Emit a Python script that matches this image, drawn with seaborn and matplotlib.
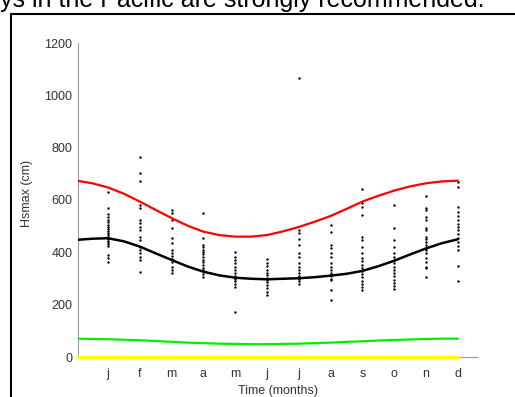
import matplotlib
matplotlib.use("Agg")
import pandas as pd
import matplotlib.pyplot as plt
from matplotlib.patches import Rectangle
import seaborn as sns

# Month tick labels
months = ['j', 'f', 'm', 'a', 'm', 'j', 'j', 'a', 's', 'o', 'n', 'd']

# Observed yearly maxima (cm), one list per month
obs_jan = [632, 571, 545, 535, 525, 515, 505, 498, 490, 480, 472, 465, 458, 450, 445, 440, 432, 425, 390, 378, 362]
obs_feb = [763, 702, 672, 581, 568, 523, 511, 498, 485, 460, 447, 422, 409, 396, 384, 371, 326]
obs_mar = [562, 551, 523, 492, 453, 434, 409, 398, 387, 375, 364, 345, 332, 320]
obs_apr = [551, 453, 428, 420, 410, 400, 392, 382, 372, 362, 351, 340, 332, 318, 307]
obs_may = [402, 383, 370, 358, 345, 332, 320, 310, 300, 290, 280, 269, 173]
obs_jun = [373, 358, 346, 334, 322, 312, 303, 295, 285, 275, 262, 250, 237]
obs_jul = [1065, 485, 473, 450, 428, 399, 383, 358, 345, 332, 320, 310, 300, 290, 280]
obs_aug = [504, 479, 428, 415, 396, 383, 358, 345, 332, 320, 310, 300, 294, 256, 218]
obs_sep = [641, 587, 574, 543, 460, 447, 422, 396, 377, 365, 352, 340, 328, 316, 304, 292, 280, 268, 256]
obs_oct = [581, 492, 447, 422, 396, 383, 370, 358, 345, 332, 320, 308, 296, 284, 272, 260]
obs_nov = [616, 568, 562, 536, 523, 492, 485, 460, 450, 440, 428, 418, 408, 396, 377, 364, 345, 339, 307]
obs_dec = [670, 651, 574, 555, 540, 525, 510, 495, 485, 470, 455, 440, 425, 409, 348, 292]

# Fitted curves (month position -> cm)
curve_x = [0.06, 0.5, 1, 1.5, 2, 2.5, 3, 3.5, 4, 4.5, 5, 5.5, 6,
           6.5, 7, 7.5, 8, 8.5, 9, 9.5, 10, 10.5, 11, 11.5, 12]
hs_upper = [673, 664, 648, 624, 594, 562, 531, 502, 479, 466, 460, 460, 466,
            480, 497, 517, 539, 566, 594, 616, 636, 652, 664, 671, 674]
hs_mean = [448, 452, 454, 442, 422, 396, 371, 346, 326, 312, 303, 299, 297,
           299, 301, 305, 311, 318, 329, 347, 368, 392, 415, 435, 450]
hs_lower = [70, 69, 68, 66, 64, 61, 58, 55, 53, 51, 50, 49, 49,
            50, 51, 53, 55, 58, 60, 63, 65, 67, 69, 70, 70]
hs_zero = [0, 0, 0, 0, 0, 0, 0, 0, 0, 0, 0, 0, 0,
           0, 0, 0, 0, 0, 0, 0, 0, 0, 0, 0, 0]

obs = [obs_jan, obs_feb, obs_mar, obs_apr, obs_may, obs_jun,
       obs_jul, obs_aug, obs_sep, obs_oct, obs_nov, obs_dec]
df_obs = pd.DataFrame([(i + 1, v) for i, vals in enumerate(obs) for v in vals],
                      columns=['month', 'hs'])
df_curve = pd.DataFrame({'x': curve_x, 'upper': hs_upper, 'mean': hs_mean,
                         'lower': hs_lower, 'zero': hs_zero})

sns.set_style("white")
plt.rcParams['font.family'] = ['Liberation Sans', 'DejaVu Sans']

fig = plt.figure(figsize=(5.15, 3.97), dpi=100)

# page text cut off at the top and the figure frame
fig.text(0, (397 - 7) / 397, "ys in the Pacific are strongly recommended.",
         fontsize=18, color='black', va='baseline', ha='left')
fig.add_artist(Rectangle((10.5 / 515, -0.1), 2, (397 - 13.5) / 397 + 0.1,
                         transform=fig.transFigure, fill=False, lw=1.5, ec='black'))

ax = fig.add_axes([78 / 515, 40 / 397, 399 / 515, 314 / 397])

sns.scatterplot(data=df_obs, x='month', y='hs', color='black', s=3,
                linewidth=0, ax=ax, zorder=3)
sns.lineplot(data=df_curve, x='x', y='upper', color='#ff0000', linewidth=1.6, ax=ax, zorder=4)
sns.lineplot(data=df_curve, x='x', y='mean', color='black', linewidth=1.8, ax=ax, zorder=4)
sns.lineplot(data=df_curve, x='x', y='lower', color='#00ee00', linewidth=1.6, ax=ax, zorder=4)
sns.lineplot(data=df_curve, x='x', y='zero', color='#ffff00', linewidth=2.4, ax=ax, zorder=5)
ax.get_lines()[-1].set_clip_on(False)

ax.set_xlim(0.057, 12.6)
ax.set_ylim(0, 1200)
ax.set_xticks(range(1, 13))
ax.set_xticklabels(months)
ax.set_yticks(range(0, 1201, 200))

for s in ['top', 'right']:
    ax.spines[s].set_visible(False)
for s in ['left', 'bottom']:
    ax.spines[s].set_color('#9a9a9a')
    ax.spines[s].set_linewidth(0.8)

ax.tick_params(direction='in', length=3, width=0.8, color='#9a9a9a',
               labelcolor='#333333', labelsize=9)
ax.tick_params(axis='x', pad=8)
ax.tick_params(axis='y', pad=4)

ax.set_xlabel('Time (months)', fontsize=9, color='#333333')
ax.set_ylabel('Hsmax (cm)', fontsize=9, color='#333333')
ax.xaxis.set_label_coords(0.5, -0.09)
ax.yaxis.set_label_coords((33 - 78) / 399, 0.52)
ax.set_facecolor('white')

fig.savefig('out.png', dpi=100, facecolor='white')
